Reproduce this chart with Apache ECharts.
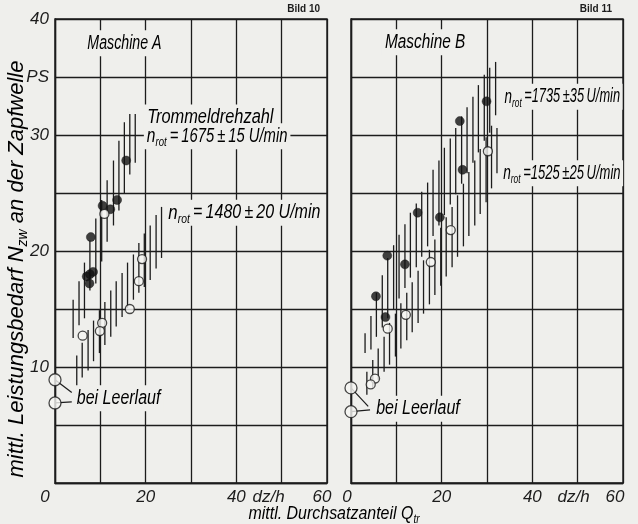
<!DOCTYPE html>
<html><head><meta charset="utf-8">
<script src="https://cdn.jsdelivr.net/npm/echarts@6/dist/echarts.min.js"></script>
<style>html,body{margin:0;padding:0;background:#efefec}#c{width:638px;height:524px}</style>
</head><body><div id="c"></div>
<script>
// ---------------- data ----------------
const xLabelsA = {0:'{z|0}', 20:'20', 40:'40', 50:'{u|dz/h}', 60:'{e|60}'};
const xLabelsB = {0:'{z|0}', 20:'20', 40:'40', 50:'{u|dz/h}', 60:'{e|60}'};
const yLabels = {10:'10', 20:'20', 30:'30', 35:'PS', 40:'40'};

// Maschine A – filled: n_rot = 1675 rpm, open: n_rot = 1480 rpm
const aFilled = [[7.9,21.2],[10.5,23.9],[12.2,23.6],[13.7,24.4],[15.7,27.8],[7.0,17.8],[7.7,18.0],[8.4,18.2],[7.6,17.2]];
const aOpen = [[10.9,23.2],[19.2,19.3],[18.5,17.4],[16.5,15.0],[10.4,13.8],[9.9,13.1],[6.1,12.7]];
const aIdle = [[0,8.9],[0,6.9]];
// scatter bands [x, low, high]
const aBandHigh = [[4.0,12.5,15.8],[5.3,13.6,17.4],[6.5,14.2,19.0],[7.7,16.6,20.9],[9.0,17.2,22.8],[10.3,19.1,24.4],
  [11.5,20.8,26.1],[12.9,22.2,27.8],[14.1,23.5,29.5],[15.3,25.0,31.1],[16.5,26.6,31.8],[17.7,27.6,31.8]];
const aBandLow = [[4.8,7.4,11.0],[6.0,9.1,12.1],[7.3,9.7,13.2],[8.5,10.5,14.0],[9.8,11.2,14.9],[11.0,11.9,15.6],
  [12.3,12.6,16.6],[13.5,13.5,17.4],[14.8,14.3,18.1],[16.0,15.1,19.0],[17.3,15.8,19.7],[18.5,16.4,20.7],
  [19.7,16.9,21.5],[21.0,17.5,22.2],[22.3,18.5,23.1],[23.5,19.4,23.8]];

// Maschine B – filled: n_rot = 1735 rpm, open: n_rot = 1525 rpm
const bFilled = [[29.9,32.9],[24.0,31.2],[24.6,27.0],[14.7,23.3],[19.6,22.9],[8.0,19.6],[11.9,18.85],[5.5,16.1],[7.6,14.3]];
const bOpen = [[5.3,9.0],[4.35,8.5],[8.1,13.3],[12.1,14.5],[17.6,19.05],[22.0,21.8],[30.2,28.6]];
const bIdle = [[0,8.2],[0,6.15]];
const bBandHigh = [[3.1,11.2,12.9],[4.4,11.5,14.4],[5.6,12.6,16.4],[6.9,13.4,17.9],[8.1,14.2,19.4],[9.4,15.0,20.5],
  [10.6,15.9,21.4],[11.9,16.8,22.3],[13.1,17.7,23.3],[14.4,18.6,24.1],[15.6,19.5,25.1],[16.9,20.4,25.9],
  [18.1,21.3,27.0],[19.4,22.2,27.8],[20.6,23.1,28.9],[21.9,24.0,29.7],[23.1,24.9,30.6],[24.4,25.8,31.6],
  [25.6,26.7,32.4],[26.9,27.6,33.3],[28.1,28.5,34.3],[29.4,29.5,35.2],[30.6,30.2,35.8],[31.9,31.7,36.3]];
const bBandLow = [[3.5,7.6,9.6],[4.8,8.2,10.6],[6.0,8.9,11.6],[7.3,9.6,12.6],[8.5,10.2,13.8],[9.8,10.9,14.6],
  [11.0,11.6,15.5],[12.3,12.3,16.4],[13.5,13.0,17.3],[14.8,13.8,18.3],[16.0,14.6,19.2],[17.3,15.4,20.1],
  [18.5,16.2,21.0],[19.8,17.0,22.0],[21.0,17.8,22.9],[22.3,18.6,23.8],[23.5,19.5,24.8],[24.8,20.4,25.8],
  [26.0,21.3,26.8],[27.3,22.2,27.8],[28.5,23.2,28.8],[29.8,24.2,29.8],[31.0,25.4,30.8],[32.2,26.7,30.6]];

// ---------------- annotations (placement in data units, horizontal squeeze) ----------------
const T = '\u2009';
const aLeaders = [[0,8.9,3.7,7.8],[0,6.9,3.7,7.0]];
const bLeaders = [[0,8.2,3.8,6.6],[0,6.15,4.2,6.3]];
const aNotes = [
  [6.5,37.9,'{t|Maschine A}',0.71],
  [19.6,31.5,'{t|Trommeldrehzahl}',0.82],
  [19.6,29.9,'{n|n}{s|rot}{t|'+T+'='+T+'1675'+T+'±'+T+'15 U/min}',0.74],
  [24.3,23.3,'{n|n}{s|rot}{t|'+T+'='+T+'1480'+T+'±'+T+'20 U/min}',0.8],
  [4.1,7.3,'{t|bei Leerlauf}',0.8]
];
const bNotes = [
  [6.8,38.0,'{t|Maschine B}',0.77],
  [33.3,33.3,'{n|n}{s|rot}{t|'+T+'=1735'+T+'±35'+T+'U/min}',0.64],
  [33.0,26.7,'{n|n}{s|rot}{t|'+T+'=1525'+T+'±25'+T+'U/min}',0.65],
  [4.85,6.4,'{t|bei Leerlauf}',0.8]
];

// ---------------- styling ----------------
const F = "'Liberation Sans','Arimo',sans-serif";
const PAPER = '#efefec';
const INK = '#1c1c1c';
const richNote = {
  t: {fontFamily:F, fontStyle:'italic', fontSize:20, color:INK, lineHeight:26},
  n: {fontFamily:F, fontStyle:'italic', fontSize:21, color:INK, lineHeight:26},
  s: {fontFamily:F, fontStyle:'italic', fontSize:13, color:INK, lineHeight:13, verticalAlign:'bottom'}
};

function hatchItem(params, api){
  const p1 = api.coord([api.value(0), api.value(1)]);
  const p2 = api.coord([api.value(0), api.value(2)]);
  return {type:'line', shape:{x1:p1[0], y1:p1[1], x2:p2[0], y2:p2[1]}, style:{stroke:INK, lineWidth:1.3}};
}
function leaderItem(params, api){
  const p1 = api.coord([api.value(0), api.value(1)]);
  const p2 = api.coord([api.value(2), api.value(3)]);
  return {type:'line', shape:{x1:p1[0], y1:p1[1], x2:p2[0], y2:p2[1]}, style:{stroke:INK, lineWidth:1.2}};
}
function noteSeries(notes, idx){
  return {type:'custom', xAxisIndex:idx, yAxisIndex:idx, z:3, silent:true,
    data: notes.map(n => [n[0], n[1]]),
    renderItem: function(params, api){
      const p = api.coord([api.value(0), api.value(1)]);
      const n = notes[params.dataIndex];
      return {type:'text', x:p[0], y:p[1], scaleX:n[3], style:{text: n[2], rich: richNote,
        align:'left', verticalAlign:'middle', backgroundColor: PAPER, padding:[0,4,0,4]}};
    }};
}
function band(d, idx){
  return {type:'custom', xAxisIndex:idx, yAxisIndex:idx, z:2, silent:true, data:d, renderItem:hatchItem, encode:{x:0, y:[1,2]}};
}
function dots(d, idx, open, size){
  return {type:'scatter', xAxisIndex:idx, yAxisIndex:idx, z:5, silent:true, data:d, symbol:'circle', symbolSize:size||9,
    itemStyle: open ? {color:'#f6f6f4', borderColor:INK, borderWidth:1.3} : {color:'#111', borderColor:'#111', borderWidth:0.5}};
}
function xAxis(idx, lbl, rich){
  return {type:'value', gridIndex:idx, min:0, max:60, interval:10,
    axisLine:{show:true, lineStyle:{color:INK, width:1.4}}, axisTick:{show:false},
    splitLine:{show:true, lineStyle:{color:INK, width:1.3}},
    axisLabel:{margin:6, fontFamily:F, fontStyle:'italic', fontSize:17, color:INK,
      formatter: v => lbl[v] || '', rich: rich}};
}
function yAxis(idx, show){
  return {type:'value', gridIndex:idx, min:0, max:40, interval:5,
    axisLine:{show:true, lineStyle:{color:INK, width:1.4}}, axisTick:{show:false},
    splitLine:{show:true, lineStyle:{color:INK, width:1.3}},
    axisLabel:{show:show, margin:6, fontFamily:F, fontStyle:'italic', fontSize:17, color:INK,
      formatter: v => (v === 0 ? '' : (yLabels[v] || ''))}};
}
const lblRich = (zp, up, ep) => ({
  z:{fontFamily:F, fontStyle:'italic', fontSize:17, color:INK, padding:[0,zp,0,0]},
  u:{fontFamily:F, fontStyle:'italic', fontSize:17, color:INK, padding:[0,up,0,0]},
  e:{fontFamily:F, fontStyle:'italic', fontSize:17, color:INK, padding:[0,ep,0,0]}
});
const sub = (fs) => ({
  t:{fontFamily:F, fontStyle:'italic', fontSize:fs, color:INK, lineHeight:fs+5},
  n:{fontFamily:F, fontStyle:'italic', fontSize:fs, color:INK, lineHeight:fs+5},
  s:{fontFamily:F, fontStyle:'italic', fontSize:Math.round(fs*0.62), color:INK, lineHeight:Math.round(fs*0.62), verticalAlign:'bottom'}
});

const chart = echarts.init(document.getElementById('c'), null, {renderer:'canvas'});
chart.setOption({
  backgroundColor: PAPER,
  animation:false,
  grid:[
    {left:55, top:19, width:272, height:464, show:true, borderColor:INK, borderWidth:1.4},
    {left:351, top:19, width:272, height:464, show:true, borderColor:INK, borderWidth:1.4}
  ],
  xAxis:[xAxis(0, xLabelsA, lblRich(20,26,10)), xAxis(1, xLabelsB, lblRich(8,8,16))],
  yAxis:[yAxis(0, true), yAxis(1, false)],
  graphic:[
    {type:'text', x:17, y:269, rotation:Math.PI/2, scaleX:1.0, style:{
      text:'{t|mittl. Leistungsbedarf }{n|N}{s|zw}{t| an der Zapfwelle}', align:'center', verticalAlign:'middle',
      rich: sub(22)}},
    {type:'text', x:334, y:514, scaleX:0.84, style:{
      text:'{t|mittl. Durchsatzanteil }{n|Q}{s|tr}', align:'center', verticalAlign:'middle',
      rich: sub(19)}},
    {type:'text', right:638-320, top:4, style:{text:'Bild 10', fontFamily:F, fontSize:10, fontWeight:'bold', fill:INK}},
    {type:'text', right:638-612, top:4, style:{text:'Bild 11', fontFamily:F, fontSize:10, fontWeight:'bold', fill:INK}}
  ],
  series:[
    band(aBandHigh,0), band(aBandLow,0),
    band(bBandHigh,1), band(bBandLow,1),
    {type:'custom', xAxisIndex:0, yAxisIndex:0, z:4, silent:true, data:aLeaders, renderItem:leaderItem, encode:{x:[0,2], y:[1,3]}},
    {type:'custom', xAxisIndex:1, yAxisIndex:1, z:4, silent:true, data:bLeaders, renderItem:leaderItem, encode:{x:[0,2], y:[1,3]}},
    noteSeries(aNotes,0), noteSeries(bNotes,1),
    dots(aFilled,0,false), dots(aOpen,0,true), dots(aIdle,0,true,12),
    dots(bFilled,1,false), dots(bOpen,1,true), dots(bIdle,1,true,12)
  ]
});
</script></body></html>
